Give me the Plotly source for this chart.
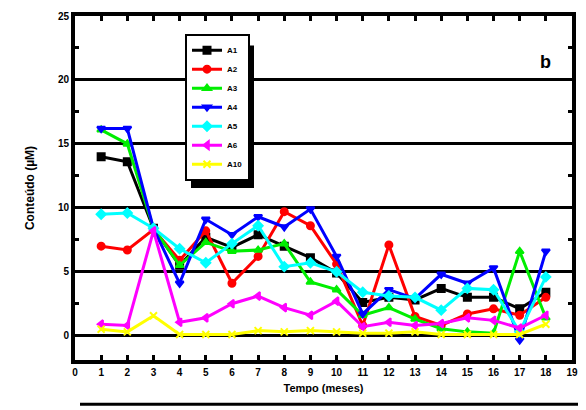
import plotly.graph_objects as go

months = list(range(1, 19))
A1 = [14.0, 13.6, 8.4, 5.5, 7.7, 6.9, 7.9, 7.0, 6.1, 4.9, 2.6, 3.0, 2.8, 3.7, 3.0, 3.0, 2.1, 3.4]
A2 = [7.0, 6.7, 8.3, 5.9, 8.2, 4.1, 6.2, 9.7, 8.6, 5.6, 0.8, 7.1, 1.5, 0.8, 1.7, 2.1, 1.6, 3.0]
A3 = [16.1, 15.0, 8.4, 5.5, 7.3, 6.6, 6.7, 7.2, 4.2, 3.6, 1.6, 2.2, 1.3, 0.55, 0.3, 0.2, 6.6, 1.4]
A4 = [16.2, 16.2, 8.4, 4.1, 9.1, 7.9, 9.3, 8.5, 9.9, 6.2, 1.7, 3.6, 2.9, 4.8, 4.1, 5.3, -0.35, 6.6]
A5 = [9.5, 9.6, 8.4, 6.8, 5.7, 7.2, 8.6, 5.4, 5.7, 5.0, 3.4, 3.1, 3.0, 2.0, 3.7, 3.6, 0.3, 4.6]
A6 = [0.9, 0.8, 8.2, 1.05, 1.4, 2.5, 3.1, 2.2, 1.6, 2.7, 0.7, 1.05, 0.8, 0.95, 1.4, 1.2, 0.6, 1.6]
A10 = [0.5, 0.3, 1.56, 0.1, 0.1, 0.1, 0.4, 0.3, 0.4, 0.3, 0.2, 0.2, 0.3, 0.1, 0.1, 0.1, 0.1, 0.9]

series = [
    ("A1", A1, "#000000", "square"),
    ("A2", A2, "#ff0000", "circle"),
    ("A3", A3, "#00ee00", "triangle-up"),
    ("A4", A4, "#0000ff", "triangle-down"),
    ("A5", A5, "#00ffff", "diamond"),
    ("A6", A6, "#ff00ff", "triangle-left"),
    ("A10", A10, "#ffff00", "x-thin"),
]

fig = go.Figure()
for name, vals, color, sym in series:
    fig.add_trace(go.Scatter(
        x=months, y=vals, name=name, mode="lines+markers",
        line=dict(color=color, width=3),
        marker=dict(symbol=sym, size=7, color=color,
                    line=dict(color=color, width=2)),
    ))

font_family = "Liberation Sans, Arial, sans-serif"

# the page has an 8 px body margin; margins are chosen so the plot area
# lands at x 75..572, y 10..360 in the window
L, R, T, B = 67, 22, 2, 58
PW = 586 - L - R
PH = 410 - T - B
OX, OY = 8 + L, 8 + T  # window position of plot-area top-left


def px(x):
    return (x - OX) / PW


def py(y):
    return (OY + PH - y) / PH


fig.update_layout(
    width=586, height=410,
    margin=dict(l=L, r=R, t=T, b=B),
    paper_bgcolor="white", plot_bgcolor="white",
    font=dict(family=font_family, size=10, color="black", weight="bold"),
    showlegend=True,
    legend=dict(
        x=px(185), y=py(28), xanchor="left", yanchor="top",
        bgcolor="white", bordercolor="black", borderwidth=2,
        font=dict(size=8, weight="bold"),
        tracegroupgap=0, itemwidth=30,
    ),
    xaxis=dict(
        range=[0, 19], tickmode="linear", tick0=0, dtick=1,
        showline=True, linecolor="black", linewidth=4, mirror="ticks",
        ticks="inside", ticklen=5, tickwidth=3, tickcolor="black",
        showgrid=False, zeroline=False,
        tickfont=dict(size=10, weight="bold"),
        title=dict(text="Tempo (meses)", font=dict(size=11, weight="bold"), standoff=8),
    ),
    yaxis=dict(
        range=[-1.9, 25], tickvals=[0, 5, 10, 15, 20, 25],
        showline=True, linecolor="black", linewidth=4, mirror="ticks",
        ticks="inside", ticklen=6, tickwidth=3, tickcolor="black",
        minor=dict(dtick=2.5, tick0=0, ticks="inside", ticklen=4, tickwidth=3,
                   tickcolor="black", showgrid=False),
        showgrid=True, gridcolor="black", gridwidth=3, zeroline=False,
        tickfont=dict(size=10, weight="bold"),
        title=dict(text="Conteúdo (µM)", font=dict(size=12, weight="bold"), standoff=22),
    ),
)

# legend drop shadow
fig.add_shape(type="rect", xref="paper", yref="paper",
              x0=px(191), x1=px(254), y0=py(185), y1=py(40),
              fillcolor="black", line=dict(width=0), layer="above")

# panel label
fig.add_annotation(text="b", xref="paper", yref="paper",
                   x=px(553), y=py(45),
                   showarrow=False, font=dict(size=18, weight="bold"))

# edge of the panel below (cropped)
fig.add_shape(type="line", xref="paper", yref="paper",
              x0=px(80), x1=1.05, y0=py(405), y1=py(405),
              line=dict(color="black", width=3))

fig.write_html("out.html")
